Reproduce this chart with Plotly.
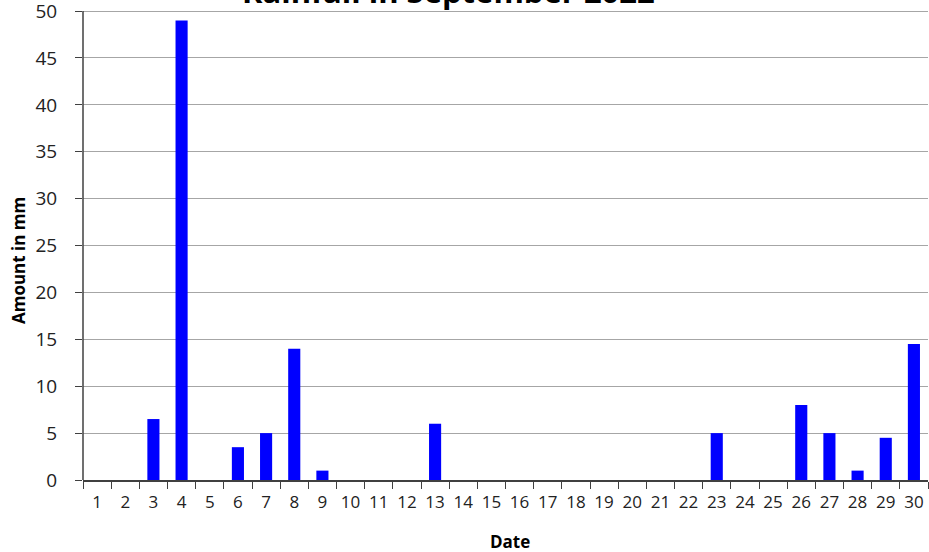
import plotly.graph_objects as go

dates = [str(d) for d in range(1, 31)]
rain_mm = [0, 0, 6.5, 49, 0, 3.5, 5, 14, 1, 0,
           0, 0, 6, 0, 0, 0, 0, 0, 0, 0,
           0, 0, 5, 0, 0, 8, 5, 1, 4.5, 14.5]
y_ticks = list(range(0, 51, 5))

title_text = "Rainfall in September 2022"
x_title = "Date"
y_title = "Amount in mm"

font_family = "Open Sans, Liberation Sans, sans-serif"

L, R, T, B = 83, 1, 8, 72
W, H = 929, 552
pw, ph = W - L - R, H - T - B
y_top = 50.33

fig = go.Figure(go.Bar(
    x=dates, y=rain_mm,
    marker=dict(color="#0000ff", line=dict(color="#0000cc", width=0)),
))

fig.update_layout(
    width=W, height=H,
    margin=dict(l=L, r=R, t=T, b=B, autoexpand=False),
    paper_bgcolor="white", plot_bgcolor="white",
    bargap=0.57,
    showlegend=False,
    font=dict(family=font_family, size=15, color="#222222"),
    shapes=[dict(
        type="line", xref="paper", yref="y", x0=0, x1=0, y0=0, y1=max(y_ticks),
        line=dict(color="#404040", width=1.5),
    )],
    annotations=[
        dict(
            text="<b>" + title_text + "</b>",
            xref="paper", yref="paper", x=(448 - L) / pw, y=1,
            xanchor="center", yanchor="middle", yshift=17, showarrow=False,
            font=dict(family=font_family, size=31, color="#000000"),
        ),
        dict(
            text="<b>" + y_title + "</b>", textangle=-90,
            xref="paper", yref="paper", x=0, y=(H - 261 - B) / ph,
            xanchor="center", yanchor="middle", xshift=18 - L, showarrow=False,
            font=dict(family=font_family, size=17, color="#000000"),
        ),
        dict(
            text="<b>" + x_title + "</b>",
            xref="paper", yref="paper", x=(510 - L) / pw, y=0,
            xanchor="center", yanchor="middle", yshift=-(541 - (H - B)), showarrow=False,
            font=dict(family=font_family, size=17, color="#000000"),
        ),
    ],
)

fig.update_xaxes(
    type="category", tickson="boundaries", ticks="outside", ticklen=7,
    tickcolor="#404040", showline=True, linecolor="#404040", linewidth=1.5,
    showgrid=False, automargin=False, ticklabelstandoff=6, tickangle=0,
    tickfont=dict(size=17),
)
fig.update_yaxes(
    range=[0, y_top], tickvals=y_ticks, ticks="outside", ticklen=7,
    tickcolor="#404040",
    showline=False,
    showgrid=True, gridcolor="#a6a6a6", gridwidth=1,
    tickfont=dict(size=19), zeroline=False, automargin=False,
    ticklabelstandoff=14, ticklabeloverflow="allow",
)

fig.write_html(
    "out.html",
    config={"displayModeBar": False},
    post_script="document.body.style.margin='0';document.body.style.overflow='hidden';",
)
